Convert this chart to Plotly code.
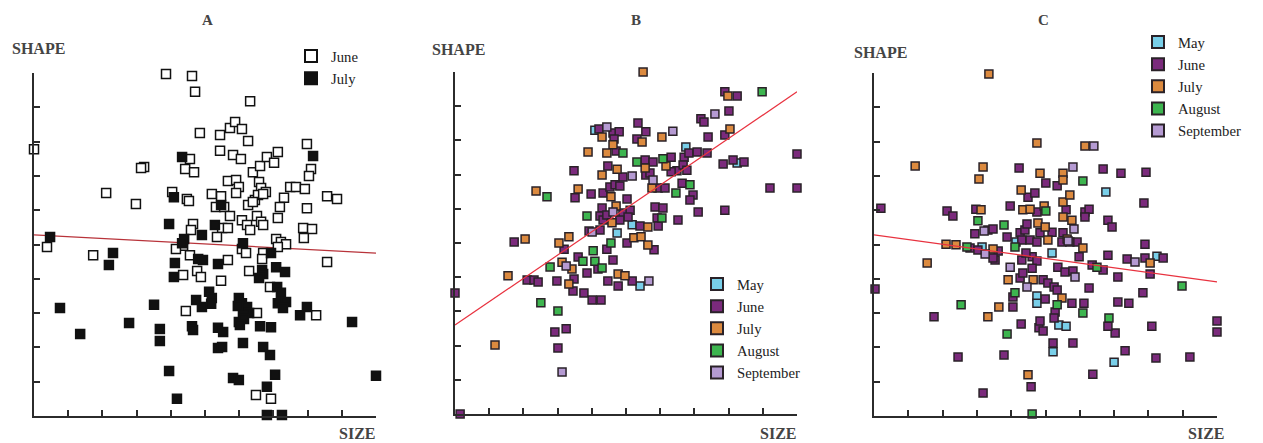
import plotly.graph_objects as go

# ---------------- Panel A ----------------
A_june_x = [3.86, 4.62, 4.71, 6.32, 4.85, 5.44, 5.73, 5.88, 6.08, 6.26, 0.00, 5.44, 5.82, 6.05, 7.98,
            4.56, 3.22, 3.13, 4.42, 4.68, 6.40, 6.61, 6.81, 7.02, 7.13, 8.10, 8.04, 5.67, 5.91, 5.99,
            5.91, 6.58, 6.64, 6.78, 7.49, 7.66, 7.92, 4.04, 4.47, 4.53, 2.11, 2.98, 5.20, 5.47, 8.57,
            8.86, 6.46, 6.55, 6.70, 6.26, 6.40, 5.32, 5.56, 7.31, 7.19, 7.98, 7.13, 5.73, 6.08, 6.23,
            6.32, 6.52, 6.64, 6.70, 4.65, 4.59, 5.50, 5.67, 7.87, 8.13, 7.89, 5.35, 4.36, 0.38, 1.73,
            4.15, 4.56, 6.08, 6.20, 7.08, 7.22, 7.37, 6.70, 7.13, 8.57, 5.67, 6.67, 4.77, 4.36, 4.88,
            6.29, 5.47, 6.90, 4.44, 6.52, 8.25, 6.49, 6.93]
A_june_y = [9.97, 9.91, 9.45, 9.18, 8.25, 8.19, 8.40, 8.57, 8.37, 8.02, 7.78, 7.73, 7.61, 7.49, 7.93,
            7.49, 7.26, 7.23, 7.20, 7.11, 7.11, 7.29, 7.55, 7.38, 7.70, 7.20, 7.00, 6.85, 6.88, 6.68,
            6.50, 6.82, 6.65, 6.53, 6.68, 6.68, 6.62, 6.53, 6.33, 6.27, 6.50, 6.18, 6.47, 6.41, 6.41,
            6.33, 6.30, 6.44, 6.47, 6.15, 6.24, 6.09, 6.09, 6.36, 6.09, 6.06, 5.77, 5.83, 5.71, 5.57,
            5.42, 5.83, 5.66, 5.57, 5.60, 5.42, 5.48, 5.48, 5.48, 5.45, 5.19, 5.22, 4.96, 4.93, 4.69,
            4.87, 4.69, 4.87, 4.75, 5.16, 5.07, 5.01, 4.75, 4.93, 4.49, 4.55, 4.58, 4.23, 4.11, 4.05,
            4.23, 3.94, 3.76, 3.06, 3.00, 2.94, 0.61, 0.50]

A_july_x = [4.33, 8.16, 4.09, 5.47, 3.95, 5.29, 4.91, 0.47, 4.39, 4.33, 6.11, 2.31, 2.19, 4.12, 6.93,
            4.80, 4.94, 5.38, 4.09, 6.67, 6.70, 6.58, 7.08, 7.34, 7.11, 7.22, 7.13, 7.37, 7.28, 5.12,
            5.20, 5.18, 4.91, 4.74, 5.99, 6.08, 5.96, 6.23, 6.29, 6.11, 5.99, 6.14, 6.02, 7.98, 7.78,
            0.76, 3.51, 1.35, 2.78, 3.68, 3.68, 4.62, 4.65, 5.38, 5.53, 5.38, 5.50, 6.61, 6.93, 6.11,
            6.70, 6.90, 9.30, 3.95, 5.82, 5.99, 7.05, 6.81, 4.18, 10.0, 6.81, 7.25]
A_july_y = [7.55, 7.58, 6.38, 6.15, 5.60, 5.57, 5.28, 5.22, 5.16, 5.04, 5.04, 4.75, 4.40, 4.46, 4.75,
            4.58, 4.55, 4.43, 4.05, 4.26, 4.14, 4.02, 4.34, 4.20, 3.76, 3.59, 3.29, 3.32, 3.15, 3.62,
            3.44, 3.27, 3.18, 3.38, 3.44, 3.29, 3.21, 3.18, 3.00, 2.92, 2.74, 2.83, 2.65, 3.18, 2.94,
            3.15, 3.24, 2.39, 2.71, 2.54, 2.19, 2.62, 2.51, 2.57, 2.45, 1.98, 2.01, 2.62, 2.59, 2.13,
            2.01, 1.78, 2.74, 1.31, 1.11, 1.05, 1.20, 0.85, 0.50, 1.17, 0.03, 0.03]

A_fit = [5.28, 4.75]   # fitted SHAPE at SIZE = 0 and SIZE = 10

# ---------------- Panel B ----------------
B_may_x = [4.09, 6.75, 8.25, 5.18, 4.74, 5.41]
B_may_y = [8.30, 7.81, 7.34, 5.53, 5.29, 3.74]

B_june_x = [0.15, 0.00, 2.92, 3.25, 3.01, 2.11, 2.31, 2.43, 1.73, 2.98, 3.19, 3.45, 3.48, 3.60, 3.77,
            3.86, 4.01, 4.27, 3.51, 3.98, 3.48, 4.21, 4.62, 4.80, 4.65, 5.35, 5.58, 5.32, 7.19, 7.28,
            7.40, 7.89, 8.25, 8.01, 7.89, 4.71, 4.47, 5.56, 5.79, 6.32, 6.70, 6.84, 7.08, 7.37, 6.49,
            6.67, 4.91, 5.58, 4.33, 4.53, 4.68, 4.82, 5.03, 5.94, 6.14, 6.96, 4.30, 4.24, 4.33, 4.44,
            4.91, 5.12, 5.06, 4.82, 5.41, 5.85, 5.91, 6.52, 7.11, 3.92, 4.24, 4.44, 4.62, 4.47, 4.77,
            5.18, 5.03, 5.82, 5.94, 6.08, 7.84, 8.13, 8.45, 10.0, 9.21, 10.0, 6.64, 6.87, 7.89, 5.70,
            6.32, 6.78, 4.18]
B_june_y = [0.00, 3.54, 2.40, 2.49, 1.93, 3.92, 3.92, 3.86, 5.03, 3.89, 4.82, 3.60, 3.95, 4.59, 3.54,
            4.12, 3.33, 3.33, 6.32, 6.43, 7.11, 8.33, 8.22, 8.25, 8.04, 8.51, 8.25, 8.04, 8.63, 8.54,
            8.10, 9.42, 9.30, 8.86, 8.16, 7.69, 7.25, 7.43, 7.37, 7.51, 7.51, 7.63, 7.66, 7.63, 7.11,
            7.28, 6.93, 6.99, 6.46, 6.64, 6.70, 6.67, 6.29, 6.61, 6.61, 6.40, 6.02, 5.79, 5.67, 5.82,
            5.88, 5.96, 5.76, 5.67, 5.50, 6.05, 5.73, 5.67, 5.91, 5.35, 5.38, 4.82, 4.50, 3.89, 3.74,
            3.89, 5.00, 4.80, 5.50, 6.02, 7.31, 7.43, 7.37, 7.60, 6.61, 6.61, 6.75, 6.26, 5.96, 7.05,
            7.08, 7.13, 4.24]

B_july_x = [5.50, 7.98, 8.04, 6.05, 5.47, 4.30, 4.62, 3.89, 4.44, 4.74, 6.17, 5.56, 4.30, 3.60, 4.56,
            4.71, 4.59, 5.64, 3.33, 3.04, 2.05, 2.37, 5.23, 5.44, 5.64, 3.13, 3.42, 3.33, 4.77, 4.97,
            1.55, 1.17, 5.76]
B_july_y = [10.0, 9.30, 8.33, 8.10, 7.95, 8.10, 7.87, 7.66, 7.63, 7.16, 7.25, 7.19, 6.99, 6.58, 6.35,
            6.08, 5.59, 5.47, 5.18, 5.00, 5.12, 6.52, 5.15, 5.18, 4.94, 4.44, 4.24, 3.80, 4.09, 4.04,
            4.04, 2.02, 6.61]

B_aug_x = [8.98, 4.91, 5.32, 6.08, 6.87, 6.46, 6.05, 2.69, 3.86, 2.78, 2.51, 3.01, 3.74, 4.04, 4.09,
           4.30, 4.56]
B_aug_y = [9.42, 7.63, 7.37, 7.46, 6.70, 6.46, 5.73, 6.35, 5.79, 4.30, 3.25, 3.01, 4.47, 4.77, 4.47,
           4.27, 5.00]

B_sep_x = [4.44, 6.37, 7.60, 5.18, 5.79, 4.62, 4.01, 3.25, 5.67, 3.13]
B_sep_y = [8.39, 8.27, 8.77, 6.96, 6.84, 5.91, 5.32, 4.33, 3.89, 1.23]

B_fit = [2.60, 9.42]

# ---------------- Panel C ----------------
C_may_x = [4.14, 4.75, 4.75, 5.39, 5.60, 5.22, 7.00, 6.76, 8.25, 5.19, 3.15]
C_may_y = [5.07, 3.50, 3.29, 2.65, 2.62, 1.87, 1.57, 6.53, 4.66, 4.75, 4.93]

C_june_x = [0.20, 0.03, 2.13, 2.30, 2.97, 3.97, 4.23, 4.49, 4.69, 4.75, 2.94, 3.32, 3.47, 3.88, 4.26,
            4.40, 4.46, 2.80, 3.03, 3.53, 4.31, 4.61, 4.75, 4.26, 4.05, 4.05, 1.75, 4.29, 4.81, 2.45,
            3.79, 4.58, 3.18, 5.01, 5.34, 5.60, 6.15, 6.27, 5.19, 5.51, 5.92, 4.31, 4.55, 4.75, 4.84,
            5.48, 3.62, 3.47, 4.43, 5.98, 6.36, 5.36, 5.57, 5.80, 6.68, 7.20, 7.93, 7.87, 6.15, 6.82,
            6.94, 7.90, 6.82, 7.38, 7.90, 8.43, 8.05, 6.68, 7.11, 6.27, 7.84, 7.11, 7.43, 7.03, 6.82,
            8.10, 7.32, 8.22, 9.21, 6.38, 10.0, 10.0, 5.80, 5.22, 4.84, 4.93, 4.99, 5.77, 6.12, 5.28,
            5.25, 4.93, 5.07, 5.25, 5.34, 5.71, 4.34, 4.61]
C_june_y = [6.06, 3.70, 5.98, 5.83, 6.03, 6.12, 7.23, 6.38, 6.50, 5.95, 5.31, 5.42, 5.45, 5.22, 5.34,
            5.42, 5.60, 4.90, 4.84, 4.55, 4.55, 4.64, 4.52, 4.02, 3.47, 3.18, 2.89, 2.68, 2.57, 1.72,
            1.78, 0.85, 0.67, 6.79, 6.71, 6.01, 5.95, 6.03, 5.36, 5.34, 5.07, 5.13, 5.13, 5.07, 5.34,
            5.07, 4.81, 4.61, 4.75, 4.64, 4.40, 4.34, 4.20, 4.23, 7.20, 7.08, 7.11, 6.21, 5.80, 5.71,
            5.51, 5.01, 4.69, 4.58, 4.61, 4.61, 4.14, 4.26, 4.05, 3.73, 3.59, 3.32, 3.29, 2.42, 2.62,
            2.62, 1.90, 1.69, 1.72, 1.22, 2.77, 2.45, 2.13, 2.13, 2.77, 2.48, 3.41, 3.29, 3.29, 3.03,
            2.86, 3.97, 3.88, 3.76, 3.67, 5.07, 4.17, 4.31]

C_july_x = [3.35, 1.20, 3.18, 3.06, 4.75, 6.15, 4.84, 5.51, 5.51, 4.29, 5.51, 5.71, 4.34, 4.55, 4.96,
            3.12, 4.78, 4.99, 5.77, 5.63, 6.09, 2.10, 2.39, 3.47, 5.07, 1.55, 3.91, 4.64, 3.64, 3.32,
            4.49, 5.48, 8.05, 5.51]
C_july_y = [9.97, 7.29, 7.26, 6.91, 7.96, 7.87, 7.08, 7.08, 6.88, 6.59, 6.24, 6.44, 6.01, 6.03, 6.12,
            6.01, 5.63, 5.51, 5.71, 5.16, 4.90, 5.01, 4.99, 4.87, 5.13, 4.46, 3.97, 3.97, 3.18, 2.89,
            1.20, 3.44, 4.46, 5.80]

C_aug_x = [3.03, 3.79, 2.71, 4.11, 5.01, 6.09, 6.50, 8.98, 6.09, 6.85, 5.34, 2.54, 4.11, 3.88, 4.61]
C_aug_y = [5.69, 5.57, 4.93, 4.93, 5.98, 6.85, 4.34, 3.79, 3.00, 2.86, 3.24, 3.24, 3.59, 2.39, 0.06]

C_sep_x = [6.41, 5.80, 3.21, 5.83, 3.24, 3.97, 5.86, 4.46, 7.61, 5.66]
C_sep_y = [7.87, 7.26, 5.39, 5.45, 4.72, 4.34, 4.05, 3.76, 4.49, 5.10]

C_fit = [5.28, 3.91]

FIT_X = [0, 10]
MONTHS = ["May", "June", "July", "August", "September"]
MONTH_COLORS = {"May": "#79cfe9", "June": "#7b2a7c", "July": "#dc8a3f",
                "August": "#3db54f", "September": "#b59ad2"}

FONT = "Liberation Serif"
AXIS_COLOR = "#2b2b2b"

fig = go.Figure()

# Panel A
fig.add_trace(go.Scatter(x=FIT_X, y=A_fit, mode="lines", line=dict(color="#b8333a", width=1.2),
                         showlegend=False, hoverinfo="skip", xaxis="x", yaxis="y"))
fig.add_trace(go.Scatter(x=A_june_x, y=A_june_y, mode="markers", name="June", legend="legend",
                         marker=dict(symbol="square", size=9, color="white",
                                     line=dict(color="#111", width=1.5)),
                         cliponaxis=False, xaxis="x", yaxis="y"))
fig.add_trace(go.Scatter(x=A_july_x, y=A_july_y, mode="markers", name="July", legend="legend",
                         marker=dict(symbol="square", size=9, color="#111",
                                     line=dict(color="#111", width=1.5)),
                         cliponaxis=False, xaxis="x", yaxis="y"))

# Panels B and C
panel_data = {
    "B": {"May": (B_may_x, B_may_y), "June": (B_june_x, B_june_y), "July": (B_july_x, B_july_y),
          "August": (B_aug_x, B_aug_y), "September": (B_sep_x, B_sep_y)},
    "C": {"May": (C_may_x, C_may_y), "June": (C_june_x, C_june_y), "July": (C_july_x, C_july_y),
          "August": (C_aug_x, C_aug_y), "September": (C_sep_x, C_sep_y)},
}
axes = {"B": ("x2", "y2", "legend2", B_fit), "C": ("x3", "y3", "legend3", C_fit)}

for panel in ["B", "C"]:
    xa, ya, lg, fit = axes[panel]
    for m in MONTHS:
        xs, ys = panel_data[panel][m]
        fig.add_trace(go.Scatter(x=xs, y=ys, mode="markers", name=m, legend=lg,
                                 marker=dict(symbol="square", size=8, color=MONTH_COLORS[m],
                                             line=dict(color="#2a2228", width=1.5)),
                                 cliponaxis=False, xaxis=xa, yaxis=ya))
    fig.add_trace(go.Scatter(x=FIT_X, y=fit, mode="lines", line=dict(color="#e8323f", width=1.2),
                             showlegend=False, hoverinfo="skip", xaxis=xa, yaxis=ya))

def axis_style(domain, anchor):
    return dict(domain=domain, anchor=anchor, range=[0, 10], dtick=1, tick0=0,
                showticklabels=False, ticks="inside", ticklen=6, tickwidth=1.5,
                tickcolor=AXIS_COLOR, showline=True, linewidth=2, linecolor=AXIS_COLOR,
                showgrid=False, zeroline=False, fixedrange=True)

W, H = 1263, 443
yA = [(H - 416) / H, (H - 73) / H]
yB = [(H - 414) / H, (H - 72) / H]

legend_common = dict(font=dict(family=FONT, size=14.7, color="#222"), bgcolor="rgba(0,0,0,0)",
                     itemsizing="constant", xanchor="left", yanchor="top", borderwidth=0,
                     tracegroupgap=0)

fig.update_layout(
    width=W, height=H, autosize=False,
    margin=dict(l=0, r=0, t=0, b=0),
    paper_bgcolor="white", plot_bgcolor="white",
    font=dict(family=FONT, color="#222"),
    xaxis=axis_style([34 / W, 376 / W], "y"),
    yaxis=axis_style(yA, "x"),
    xaxis2=axis_style([455 / W, 797 / W], "y2"),
    yaxis2=axis_style(yB, "x2"),
    xaxis3=axis_style([874 / W, 1217 / W], "y3"),
    yaxis3=axis_style(yA, "x3"),
    legend=dict(x=291 / W, y=(H - 40) / H, **legend_common),
    legend2=dict(x=697 / W, y=(H - 268) / H, **legend_common),
    legend3=dict(x=1138 / W, y=(H - 26) / H, **legend_common),
    showlegend=True,
)

annots = [
    ("A", 207, 20, "center", 15), ("B", 636, 20, "center", 15), ("C", 1043, 20, "center", 15),
    ("SHAPE", 10, 48, "left", 16), ("SHAPE", 430, 49, "left", 16), ("SHAPE", 852, 52, "left", 16),
]
for text, px, py, anchor, size in annots:
    fig.add_annotation(text="<b>" + text + "</b>", xref="paper", yref="paper", x=px / W, y=(H - py) / H,
                       xanchor=anchor, yanchor="middle", showarrow=False,
                       font=dict(family=FONT, size=size, color="#444"))

# SIZE labels, kept fully inside the bottom edge
for px in [376, 797, 1225]:
    fig.add_annotation(text="<b>SIZE</b>", xref="paper", yref="paper", x=px / W, y=0,
                       xanchor="right", yanchor="bottom", showarrow=False, borderpad=0,
                       font=dict(family=FONT, size=16, color="#444"))

fig.write_html("out.html", config={"displayModeBar": False},
               post_script="document.body.style.margin='0';")
